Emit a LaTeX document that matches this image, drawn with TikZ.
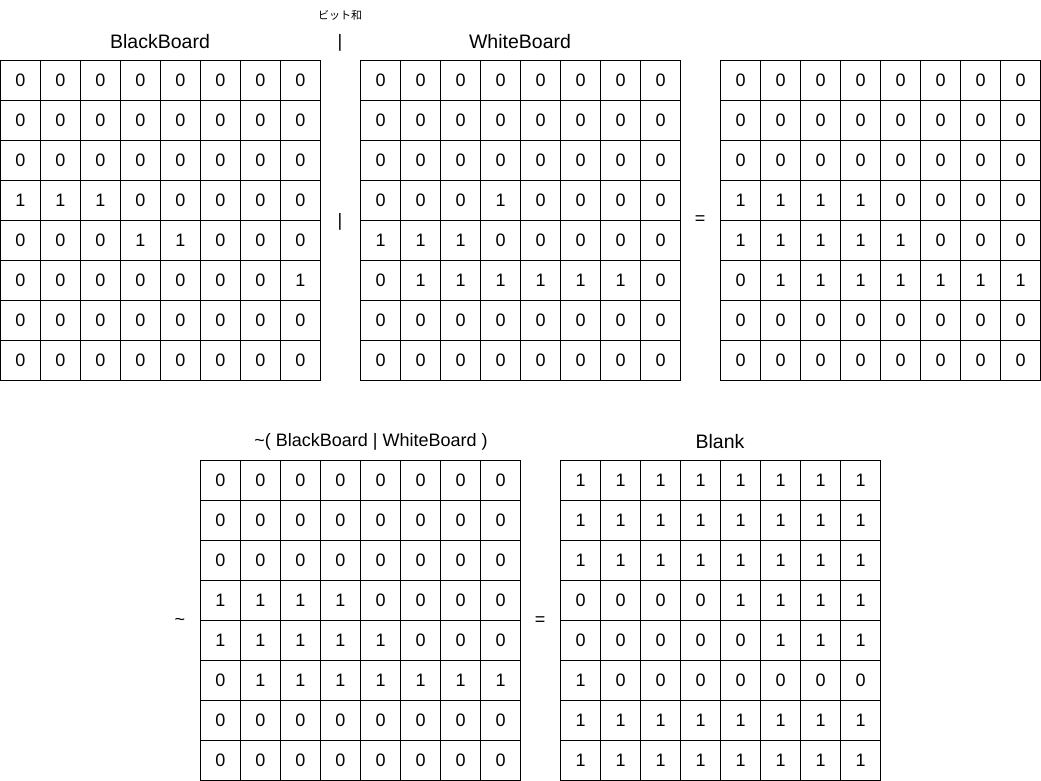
\documentclass[tikz,border=0pt]{standalone}
\usepackage{fontspec}
\setmainfont{Liberation Sans}
\newfontfamily\jpfont{Noto Sans CJK JP}
\tikzset{
  x=1pt, y=-1pt,
  cell/.style={draw=black, line width=1pt, minimum size=40pt, inner sep=0pt, anchor=center, font=\fontsize{18}{20}\selectfont},
  lbl/.style={inner sep=0pt, anchor=center, font=\fontsize{18}{20}\selectfont},
  title/.style={inner sep=0pt, anchor=center, font=\fontsize{19.5}{22}\selectfont},
  small/.style={inner sep=0pt, anchor=center, font=\jpfont\fontsize{11}{13}\selectfont},
}
\newcommand\bitboard[4]{%
  \foreach \r [count=\j from 0] in {#4} {
    \foreach \v [count=\i from 0] in \r {
      \node[cell] (#1-\j-\i) at ({#2+40*\i+20},{#3+40*\j+20}) {\v};
    }
  }
}
\begin{document}
\begin{tikzpicture}
\useasboundingbox (0,0) rectangle (1041,781);
\bitboard{black}{0.5}{60.5}{{0,0,0,0,0,0,0,0},{0,0,0,0,0,0,0,0},{0,0,0,0,0,0,0,0},{1,1,1,0,0,0,0,0},{0,0,0,1,1,0,0,0},{0,0,0,0,0,0,0,1},{0,0,0,0,0,0,0,0},{0,0,0,0,0,0,0,0}}
\bitboard{white}{360.5}{60.5}{{0,0,0,0,0,0,0,0},{0,0,0,0,0,0,0,0},{0,0,0,0,0,0,0,0},{0,0,0,1,0,0,0,0},{1,1,1,0,0,0,0,0},{0,1,1,1,1,1,1,0},{0,0,0,0,0,0,0,0},{0,0,0,0,0,0,0,0}}
\bitboard{orb}{720.5}{60.5}{{0,0,0,0,0,0,0,0},{0,0,0,0,0,0,0,0},{0,0,0,0,0,0,0,0},{1,1,1,1,0,0,0,0},{1,1,1,1,1,0,0,0},{0,1,1,1,1,1,1,1},{0,0,0,0,0,0,0,0},{0,0,0,0,0,0,0,0}}
\bitboard{notb}{200.5}{460.5}{{0,0,0,0,0,0,0,0},{0,0,0,0,0,0,0,0},{0,0,0,0,0,0,0,0},{1,1,1,1,0,0,0,0},{1,1,1,1,1,0,0,0},{0,1,1,1,1,1,1,1},{0,0,0,0,0,0,0,0},{0,0,0,0,0,0,0,0}}
\bitboard{blank}{560.5}{460.5}{{1,1,1,1,1,1,1,1},{1,1,1,1,1,1,1,1},{1,1,1,1,1,1,1,1},{0,0,0,0,1,1,1,1},{0,0,0,0,0,1,1,1},{1,0,0,0,0,0,0,0},{1,1,1,1,1,1,1,1},{1,1,1,1,1,1,1,1}}
\node[title] (tblack) at (160,41.5) {BlackBoard};
\node[title] (twhite) at (520,41.5) {WhiteBoard};
\node[small] (tbitor) at (340,15) {ビット和};
\node[lbl] (or1) at (340,43) {|};
\node[lbl] (or2) at (340,222) {|};
\node[lbl] (eq1) at (700,220) {=};
\node[lbl] (tnot) at (371,442) {\textasciitilde( BlackBoard | WhiteBoard )};
\node[title] (tblank) at (720,441.5) {Blank};
\node[lbl] (tilde) at (180,622) {\textasciitilde};
\node[lbl] (eq2) at (540,621) {=};
\end{tikzpicture}
\end{document}
